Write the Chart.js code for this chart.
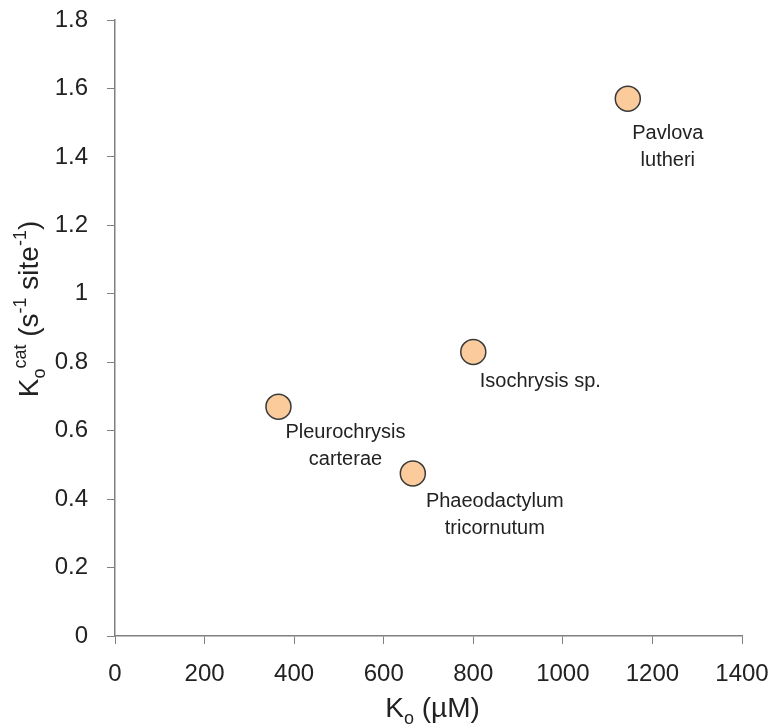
<!DOCTYPE html>
<html>
<head>
<meta charset="utf-8">
<script src="https://cdn.jsdelivr.net/npm/chart.js@4/dist/chart.umd.min.js"></script>
<style>
  html, body { margin: 0; padding: 0; background: #fff; }
  #wrap { width: 771px; height: 727px; }
</style>
</head>
<body>
<div id="wrap"><canvas id="c" width="771" height="727"></canvas></div>
<script>
// Oxygenase parameters of Rubisco from four algal species
const species = [
  ["Pleurochrysis", "carterae"],
  ["Phaeodactylum", "tricornutum"],
  ["Isochrysis sp."],
  ["Pavlova", "lutheri"]
];
const koValues = [365, 665, 800, 1145];        // Ko (µM)
const kcatValues = [0.67, 0.475, 0.83, 1.57];  // Ko cat (s-1 site-1)

const xTicks = [0, 200, 400, 600, 800, 1000, 1200, 1400];
const yTicks = [0, 0.2, 0.4, 0.6, 0.8, 1, 1.2, 1.4, 1.6, 1.8];

// label placement relative to each marker (px): centre x shift, first baseline shift
const labelDx = [67, 82, 67, 40];
const labelDy = [31, 34, 35, 40];

const FONT = '"Liberation Sans", Arial, sans-serif';
const TEXT = '#222222';
const AXIS = '#808080';

const points = koValues.map((x, i) => ({ x: x, y: kcatValues[i] }));

// draws a run of text pieces with their own sizes and vertical shifts
function richWidth(ctx, parts) {
  let w = 0;
  parts.forEach(p => { ctx.font = p.size + 'px ' + FONT; w += ctx.measureText(p.t).width; });
  return w;
}
function drawRich(ctx, parts, x, y) {
  let cx = x;
  parts.forEach(p => {
    ctx.font = p.size + 'px ' + FONT;
    ctx.fillText(p.t, cx, y + (p.dy || 0));
    cx += ctx.measureText(p.t).width;
  });
}

const xTitle = [
  { t: 'K', size: 28 }, { t: 'o', size: 18, dy: 7 }, { t: ' (\u00b5M)', size: 28 }
];
const yTitle = [
  { t: 'K', size: 28 }, { t: 'o', size: 18, dy: 7 }, { t: 'cat', size: 18, dy: -12 },
  { t: ' (s', size: 28 }, { t: '-1', size: 18, dy: -12 }, { t: ' site', size: 28 },
  { t: '-1', size: 18, dy: -12 }, { t: ')', size: 28 }
];

const annotate = {
  id: 'annotate',
  afterDatasetsDraw(chart) {
    const ctx = chart.ctx;
    const meta = chart.getDatasetMeta(0);
    ctx.save();
    ctx.fillStyle = TEXT;
    ctx.font = '20px ' + FONT;
    ctx.textAlign = 'center';
    ctx.textBaseline = 'alphabetic';
    meta.data.forEach((el, i) => {
      species[i].forEach((line, j) => {
        ctx.fillText(line, el.x + labelDx[i], el.y + labelDy[i] + j * 27);
      });
    });
    ctx.restore();
  },
  afterDraw(chart) {
    const ctx = chart.ctx;
    const area = chart.chartArea;
    ctx.save();
    ctx.fillStyle = TEXT;
    ctx.textAlign = 'left';
    ctx.textBaseline = 'alphabetic';
    // x axis title
    const wx = richWidth(ctx, xTitle);
    drawRich(ctx, xTitle, (area.left + area.right) / 2 + 4 - wx / 2, 717);
    // y axis title (rotated)
    const wy = richWidth(ctx, yTitle);
    ctx.translate(38, (area.top + area.bottom) / 2 - 19);
    ctx.rotate(-Math.PI / 2);
    drawRich(ctx, yTitle, -wy / 2, 0);
    ctx.restore();
  }
};

function noOverhang(scale) {
  scale.paddingTop = 0;
  scale.paddingBottom = 0;
  scale.paddingLeft = 0;
  scale.paddingRight = 0;
}

new Chart(document.getElementById('c'), {
  type: 'scatter',
  data: {
    datasets: [{
      data: points,
      pointRadius: 12.5,
      pointHoverRadius: 12.5,
      pointBackgroundColor: '#FBCB9C',
      pointBorderColor: '#3a3a3a',
      pointBorderWidth: 1.5,
      clip: false
    }]
  },
  options: {
    responsive: false,
    animation: false,
    events: [],
    layout: { padding: { top: 20, right: 29, left: 0, bottom: 0 } },
    plugins: { legend: { display: false }, tooltip: { enabled: false } },
    scales: {
      x: {
        type: 'linear',
        min: 0, max: 1400,
        afterBuildTicks(scale) { scale.ticks = xTicks.map(v => ({ value: v })); },
        afterFit(scale) { scale.height = 91; noOverhang(scale); },
        grid: { drawOnChartArea: false, color: AXIS, tickLength: 8, lineWidth: 1 },
        border: { color: AXIS, width: 1.5 },
        ticks: {
          color: TEXT, font: { family: FONT, size: 24 }, padding: 16,
          maxRotation: 0, autoSkip: false,
          callback: v => String(v)
        }
      },
      y: {
        type: 'linear',
        min: 0, max: 1.8,
        afterBuildTicks(scale) { scale.ticks = yTicks.map(v => ({ value: v })); },
        afterFit(scale) { scale.width = 115; noOverhang(scale); },
        grid: { drawOnChartArea: false, color: AXIS, tickLength: 8, lineWidth: 1 },
        border: { color: AXIS, width: 1.5 },
        ticks: {
          color: TEXT, font: { family: FONT, size: 24 }, padding: 19,
          autoSkip: false,
          callback: v => String(+v.toFixed(1))
        }
      }
    }
  },
  plugins: [annotate]
});
</script>
</body>
</html>
